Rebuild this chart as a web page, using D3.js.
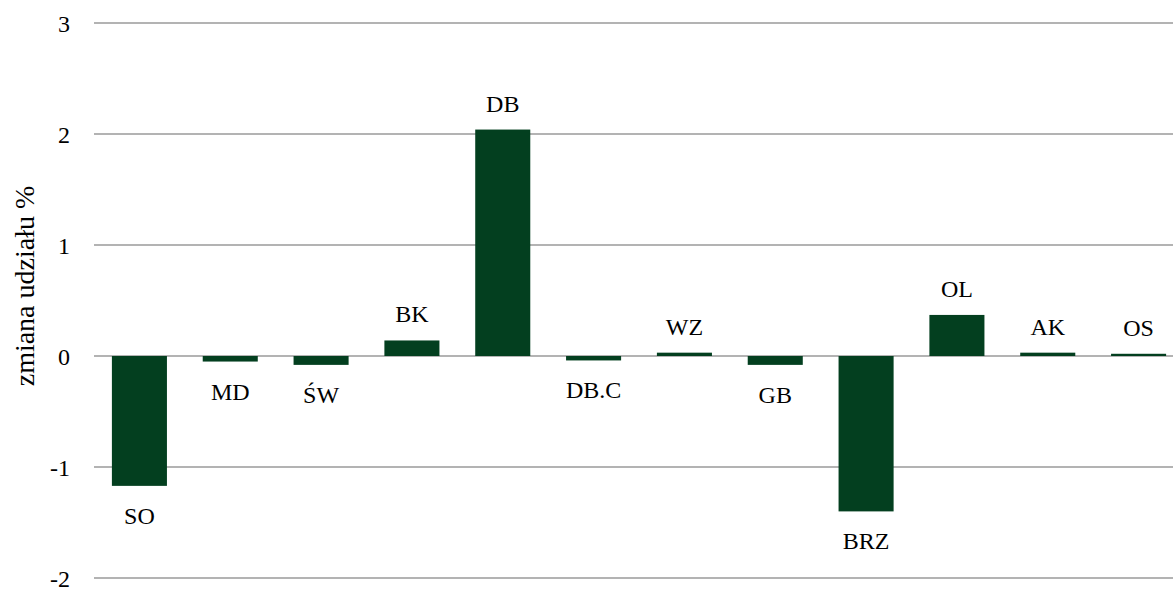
<!DOCTYPE html>
<html><head><meta charset="utf-8">
<script src="https://cdn.jsdelivr.net/npm/d3@7"></script>
<style>body{margin:0;background:#fff} svg text{font-family:"Times New Roman","Liberation Serif",Tinos,serif !important;}</style>
</head><body>
<svg id="c" width="1173" height="590"></svg>
<script>
const categories = ["SO","MD","ŚW","BK","DB","DB.C","WZ","GB","BRZ","OL","AK","OS"];
const values = [-1.17,-0.05,-0.08,0.14,2.04,-0.04,0.03,-0.08,-1.40,0.37,0.03,0.02];
const yTicks = [-2,-1,0,1,2,3];
const yTitle = "zmiana udziału %";

function draw(){
  const svg = d3.select("#c");
  svg.selectAll("*").remove();
  const x = d3.scaleBand().domain(categories).range([94,1184]).paddingInner(0.394).paddingOuter(0.197);
  const y = d3.scaleLinear().domain([-2,3]).range([578,23]);

  svg.selectAll("line.grid").data(yTicks).join("line").attr("class","grid")
    .attr("x1",94).attr("x2",1173).attr("y1",d=>y(d)).attr("y2",d=>y(d))
    .attr("stroke","#9a9a9a").attr("stroke-width",1.5);

  svg.selectAll("text.tick").data(yTicks).join("text").attr("class","tick")
    .attr("x",70).attr("y",d=>y(d)+9).attr("text-anchor","end")
    .attr("font-size",24).attr("fill","#000").text(d=>d);

  svg.append("text").attr("transform","translate(34,286) rotate(-90)")
    .attr("text-anchor","middle").attr("font-size",28).text(yTitle);

  svg.selectAll("rect").data(values).join("rect")
    .attr("x",(d,i)=>x(categories[i])).attr("width",x.bandwidth())
    .attr("y",d=>y(Math.max(0,d))).attr("height",d=>Math.abs(y(d)-y(0)))
    .attr("fill","#033f1f");

  svg.selectAll("text.lab").data(values).join("text").attr("class","lab")
    .attr("x",(d,i)=>x(categories[i])+x.bandwidth()/2)
    .attr("y",d=> d>=0 ? y(d)-18 : y(d)+38)
    .attr("text-anchor","middle").attr("font-size",24)
    .text((d,i)=>categories[i]);
}
draw();
if (document.fonts && document.fonts.ready) document.fonts.ready.then(draw);
</script>
</body></html>
